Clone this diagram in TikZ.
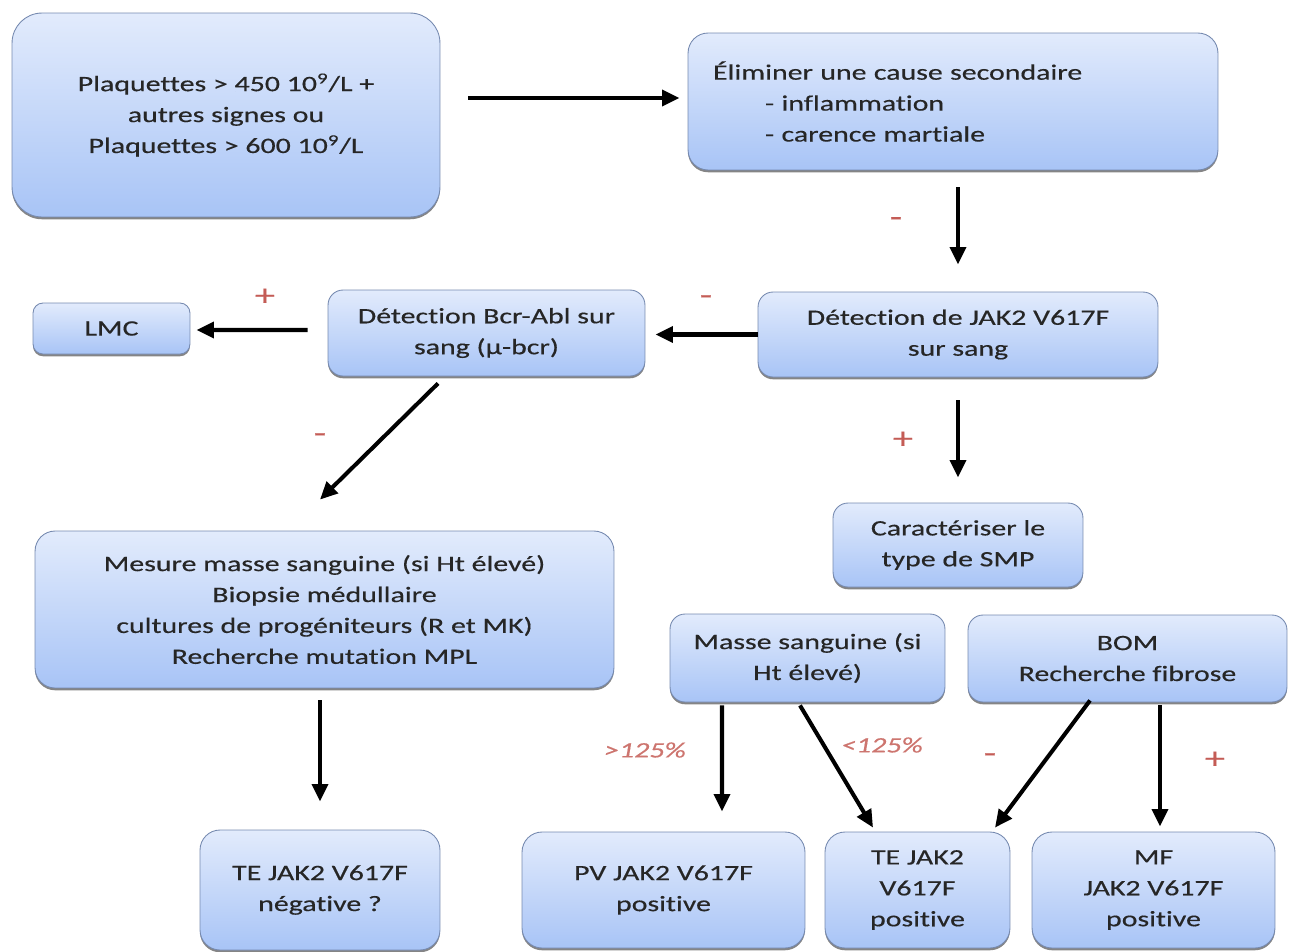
\documentclass[tikz,border=0pt]{standalone}
\usepackage{fontspec}
\setmainfont{Carlito}[Ligatures=NoCommon, FakeStretch=1.36, FakeBold=0.4]
\usetikzlibrary{calc,shadows,arrows.meta}

\definecolor{boxtop}{RGB}{226,235,252}
\definecolor{boxbot}{RGB}{168,196,246}
\definecolor{boxline}{RGB}{118,138,176}
\definecolor{signred}{RGB}{196,92,86}

\begin{document}
\begin{tikzpicture}
  [x=0.02cm, y=-0.02cm,
   step box/.style={rectangle, rounded corners=0.3cm, draw=boxline, line width=0.5pt,
     top color=boxtop, bottom color=boxbot, text=black!85, align=center, inner sep=0pt,
     font=\fontsize{12.5}{17.6}\selectfont,
     drop shadow={shadow xshift=0pt, shadow yshift=-1.3pt, fill=black!60, opacity=.8}},
   arr/.style={line width=2.3pt, -{Triangle[length=10pt,width=9pt]}},
   sign/.style={text=signred, font=\fontsize{17}{19}\selectfont},
   pct/.style={text=signred!85, font=\fontsize{12.5}{17}\selectfont\itshape}]

  \useasboundingbox (0,0) rectangle (1295,951);

  % boxes
  \node[step box, rounded corners=0.6cm, minimum width=8.56cm, minimum height=4.08cm] (start) at (226,115)
    {Plaquettes > 450 10\textsuperscript{9}/L +\\ autres signes ou\\ Plaquettes > 600 10\textsuperscript{9}/L};
  \node[step box, rounded corners=0.4cm, align=left, text width=9.6cm, inner xsep=0.5cm,
        minimum width=10.6cm, minimum height=2.74cm] (elim) at (953,101.5)
    {Éliminer une cause secondaire\\ \hspace*{1.04cm}- inflammation\\ \hspace*{1.04cm}- carence martiale};
  \node[step box, minimum width=8cm, minimum height=1.7cm] (jak) at (958,334.5)
    {Détection de JAK2 V617F\\ sur sang};
  \node[step box, minimum width=6.34cm, minimum height=1.72cm] (bcr) at (486.5,333)
    {Détection Bcr-Abl sur\\ sang (µ-bcr)};
  \node[step box, rounded corners=0.2cm, minimum width=3.14cm, minimum height=1.02cm] (lmc) at (111.5,328.5) {LMC};
  \node[step box, rounded corners=0.4cm, minimum width=11.58cm, minimum height=3.14cm] (mesure) at (324.5,609.5)
    {Mesure masse sanguine (si Ht élevé)\\ Biopsie médullaire\\ cultures de progéniteurs (R et MK)\\ Recherche mutation MPL};
  \node[step box, minimum width=5cm, minimum height=1.68cm] (carac) at (958,545)
    {Caractériser le\\ type de SMP};
  \node[step box, minimum width=5.5cm, minimum height=1.76cm] (masse) at (807.5,658)
    {Masse sanguine (si\\ Ht élevé)};
  \node[step box, minimum width=6.38cm, minimum height=1.74cm] (bom) at (1127.5,658.5)
    {BOM\\ Recherche fibrose};
  \node[step box, rounded corners=0.4cm, minimum width=4.8cm, minimum height=2.4cm] (teneg) at (320,890)
    {TE JAK2 V617F\\ négative ?};
  \node[step box, rounded corners=0.4cm, minimum width=5.66cm, minimum height=2.32cm] (pv) at (663.5,890)
    {PV JAK2 V617F\\ positive};
  \node[step box, rounded corners=0.4cm, minimum width=3.7cm, minimum height=2.32cm] (tepos) at (917.5,890)
    {TE JAK2\\ V617F\\ positive};
  \node[step box, rounded corners=0.4cm, minimum width=4.86cm, minimum height=2.32cm] (mf) at (1153.5,890)
    {MF\\ JAK2 V617F\\ positive};

  % arrows
  \draw[arr] ($(start.east)+(28,-17)$) -- ($(elim.west)+(-8,-3.5)$);
  \draw[arr] ($(elim.south)+(5,17)$) -- ($(jak.north)+(0,-27)$);
  \draw[arr] (jak.west) -- ($(bcr.east)+(10,1.5)$);
  \draw[arr] ($(bcr.west)+(-20,-3)$) -- ($(lmc.east)+(6,1.5)$);
  \draw[arr] ($(bcr.south)+(-48.5,7)$) -- ($(mesure.north)+(-4.5,-31)$);
  \draw[arr] ($(jak.south)+(0,23)$) -- ($(carac.north)+(0,-25)$);
  \draw[arr] ($(mesure.south)+(-4.5,12)$) -- ($(teneg.north)+(0,-28)$);
  \draw[arr] ($(masse.south)+(-85.5,3)$) -- ($(pv.north)+(58.5,-20)$);
  \draw[arr] ($(masse.south)+(-7.5,3)$) -- ($(tepos.north)+(-44.5,-4)$);
  \draw[arr] ($(bom.south)+(-37.5,-2)$) -- ($(tepos.north)+(77.5,-4)$);
  \draw[arr] ($(bom.south)+(32.5,3)$) -- ($(mf.north)+(6.5,-5)$);

  % signs
  \node[sign] (s1) at (896,222) {-};
  \node[sign] (s2) at (706,300) {-};
  \node[sign] (s3) at (265,297) {+};
  \node[sign] (s4) at (320,438) {-};
  \node[sign] (s5) at (903,440) {+};
  \node[sign] (s6) at (990,758) {-};
  \node[sign] (s7) at (1215,760) {+};
  \node[pct] (p1) at (645,750) {>125\%};
  \node[pct] (p2) at (882,745) {<125\%};
\end{tikzpicture}
\end{document}
